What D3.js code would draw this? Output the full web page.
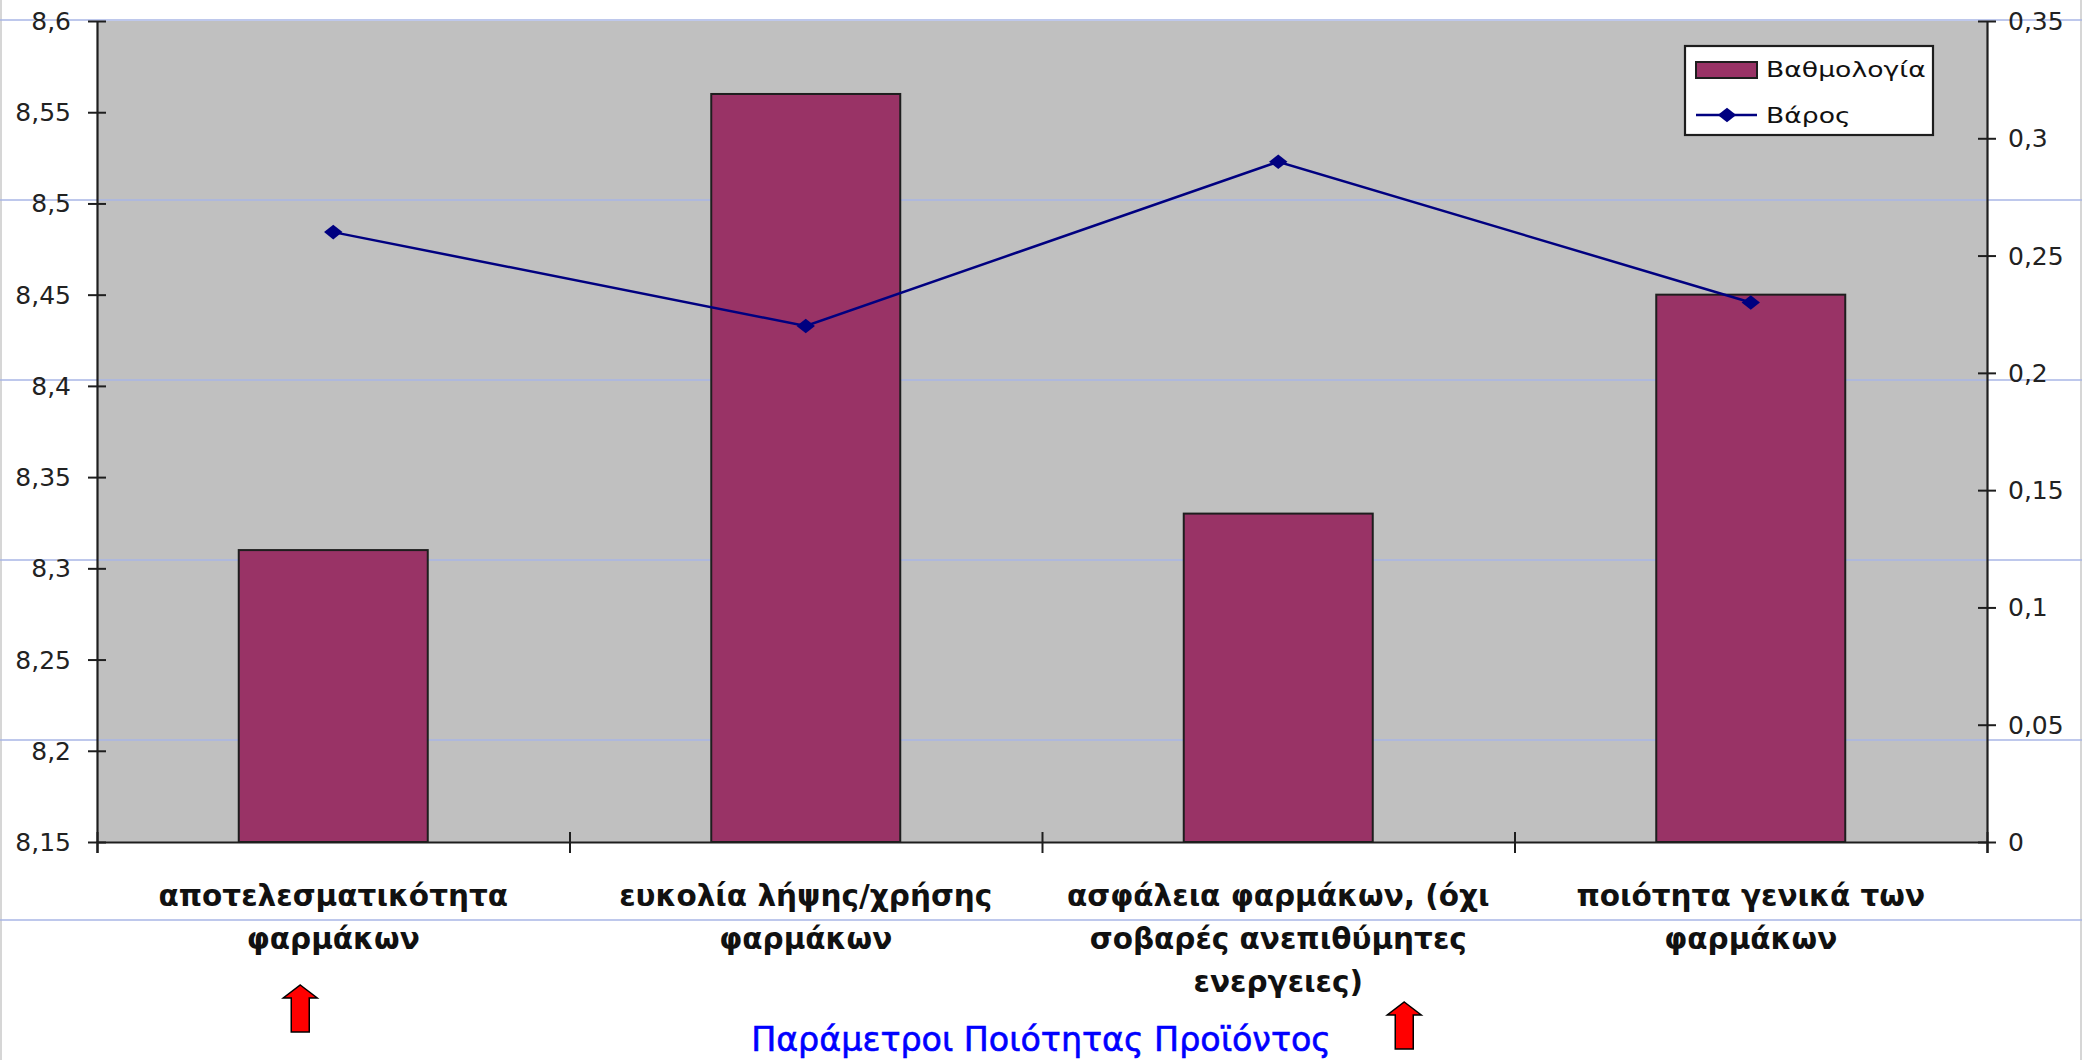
<!DOCTYPE html>
<html>
<head>
<meta charset="utf-8">
<script src="https://cdn.jsdelivr.net/npm/d3@7"></script>
<style>
  body { margin: 0; background: #fff; }
  svg { display: block; }
</style>
</head>
<body>
<svg id="chart"></svg>
<script>
const categories = [
  ['αποτελεσματικότητα', 'φαρμάκων'],
  ['ευκολία λήψης/χρήσης', 'φαρμάκων'],
  ['ασφάλεια φαρμάκων, (όχι', 'σοβαρές ανεπιθύμητες', 'ενεργειες)'],
  ['ποιότητα γενικά των', 'φαρμάκων'],
];
const scores = [8.31, 8.56, 8.33, 8.45];
const weights = [0.26, 0.22, 0.29, 0.23];
const scoreTicks = [8.15, 8.2, 8.25, 8.3, 8.35, 8.4, 8.45, 8.5, 8.55, 8.6];
const weightTicks = [0, 0.05, 0.1, 0.15, 0.2, 0.25, 0.3, 0.35];
const seriesNames = ['Βαθμολογία', 'Βάρος'];
const axisTitle = 'Παράμετροι Ποιότητας Προϊόντος';
const markedCategories = [0, 2];

const width = 2090;
const height = 1060;
const plot = { left: 97, right: 1987, top: 21, bottom: 842 };
const font = 'DejaVu Sans, Verdana, sans-serif';
const commaFormat = d => String(d).replace('.', ',');

const svg = d3.select('#chart').attr('width', width).attr('height', height);

// sheet cell borders behind the chart
svg.append('rect').attr('width', width).attr('height', height).attr('fill', '#fff');
[1, 2081].forEach(x => svg.append('line')
  .attr('x1', x).attr('x2', x).attr('y1', 0).attr('y2', height)
  .attr('stroke', '#c8c8c8').attr('stroke-width', 1.5));

const xBand = d3.scaleBand().domain(d3.range(categories.length)).range([plot.left, plot.right]);
const xEdges = d3.scaleLinear().domain([0, categories.length]).range([plot.left, plot.right]);
const yLeft = d3.scaleLinear().domain([8.15, 8.6]).range([plot.bottom, plot.top]);
const yRight = d3.scaleLinear().domain([0, 0.35]).range([plot.bottom, plot.top]);
const barWidth = xBand.bandwidth() * 0.4;
const center = i => xBand(i) + xBand.bandwidth() / 2;

svg.append('rect')
  .attr('x', plot.left).attr('y', plot.top)
  .attr('width', plot.right - plot.left).attr('height', plot.bottom - plot.top)
  .attr('fill', '#c0c0c0');

// faint sheet row lines
d3.range(20, height, 180).forEach(y => svg.append('line')
  .attr('x1', 0).attr('x2', 2082).attr('y1', y).attr('y2', y)
  .attr('stroke', '#a8b6e6').attr('stroke-width', 1.3));

svg.append('g').selectAll('rect')
  .data(scores)
  .join('rect')
  .attr('x', (d, i) => center(i) - barWidth / 2)
  .attr('y', d => yLeft(d))
  .attr('width', barWidth)
  .attr('height', d => plot.bottom - yLeft(d))
  .attr('fill', '#993366')
  .attr('stroke', '#1e1e1e')
  .attr('stroke-width', 2);

const styleAxis = (g, side) => {
  g.select('.domain').attr('stroke', '#1e1e1e').attr('stroke-width', 2.2);
  g.selectAll('.tick line').attr('stroke', '#1e1e1e').attr('stroke-width', 2);
  if (side) {
    g.selectAll('.tick line').attr('x1', -9).attr('x2', 9);
    g.selectAll('.tick text')
      .attr('x', side === 'left' ? -26 : 21).attr('dy', null)
      .attr('dominant-baseline', 'central')
      .attr('font-family', font).attr('font-size', 25).attr('fill', '#222');
  }
};

svg.append('g')
  .attr('transform', `translate(${plot.left},0)`)
  .call(d3.axisLeft(yLeft).tickValues(scoreTicks).tickFormat(commaFormat).tickSizeOuter(0))
  .call(g => styleAxis(g, 'left'));

svg.append('g')
  .attr('transform', `translate(${plot.right},0)`)
  .call(d3.axisRight(yRight).tickValues(weightTicks).tickFormat(commaFormat).tickSizeOuter(0))
  .call(g => styleAxis(g, 'right'));

svg.append('g')
  .attr('transform', `translate(0,${plot.bottom})`)
  .call(d3.axisBottom(xEdges).tickValues(d3.range(categories.length + 1)).tickFormat('').tickSizeOuter(0).tickSize(11))
  .call(g => styleAxis(g, null))
  .call(g => g.selectAll('.tick line').attr('y1', -10));

// category labels
const labels = svg.append('g')
  .attr('font-family', font).attr('font-size', 29.5).attr('font-weight', 'bold')
  .attr('fill', '#111').attr('text-anchor', 'middle');
categories.forEach((lines, i) => {
  lines.forEach((line, j) => labels.append('text')
    .attr('x', center(i)).attr('y', 906 + j * 43)
    .text(line));
});

svg.append('text')
  .attr('x', (plot.left + plot.right) / 2 - 1).attr('y', 1051)
  .attr('text-anchor', 'middle')
  .attr('font-family', font).attr('font-size', 33.3)
  .attr('fill', '#0000ff').attr('stroke', '#0000ff').attr('stroke-width', 0.6)
  .text(axisTitle);

// highlight arrows
const arrowPath = 'M0,0 L17,13 L9,13 L9,47 L-9,47 L-9,13 L-17,13 Z';
const arrowOffsets = [{ dx: -33, y: 985 }, { dx: 126, y: 1002 }];
svg.append('g').selectAll('path')
  .data(markedCategories)
  .join('path')
  .attr('d', arrowPath)
  .attr('transform', (c, k) => `translate(${center(c) + arrowOffsets[k].dx},${arrowOffsets[k].y})`)
  .attr('fill', '#ff0000').attr('stroke', '#000').attr('stroke-width', 1.5);

// weight line
const lineGen = d3.line().x((d, i) => center(i)).y(d => yRight(d));
svg.append('path')
  .datum(weights)
  .attr('d', lineGen)
  .attr('fill', 'none').attr('stroke', '#000080').attr('stroke-width', 2.5);

const diamond = d3.symbol().type(d3.symbolDiamond2).size(150);
svg.append('g').selectAll('path')
  .data(weights)
  .join('path')
  .attr('d', diamond)
  .attr('transform', (d, i) => `translate(${center(i)},${yRight(d)}) scale(1.2,0.95)`)
  .attr('fill', '#000080');

// legend
const legend = svg.append('g').attr('transform', 'translate(1685,46)');
legend.append('rect')
  .attr('width', 248).attr('height', 89)
  .attr('fill', '#fff').attr('stroke', '#1e1e1e').attr('stroke-width', 2.2);
legend.append('rect')
  .attr('x', 11).attr('y', 16).attr('width', 61).attr('height', 16)
  .attr('fill', '#993366').attr('stroke', '#1e1e1e').attr('stroke-width', 2);
legend.append('line')
  .attr('x1', 11).attr('x2', 72).attr('y1', 69).attr('y2', 69)
  .attr('stroke', '#000080').attr('stroke-width', 2.5);
legend.append('path')
  .attr('d', diamond)
  .attr('transform', 'translate(42,69) scale(1.2,0.95)')
  .attr('fill', '#000080');
legend.selectAll('text')
  .data(seriesNames)
  .join('text')
  .attr('transform', (d, i) => `translate(81,${31 + i * 46}) scale(1.3,1)`)
  .attr('font-family', font).attr('font-size', 20.5).attr('fill', '#111')
  .text(d => d);
</script>
</body>
</html>
